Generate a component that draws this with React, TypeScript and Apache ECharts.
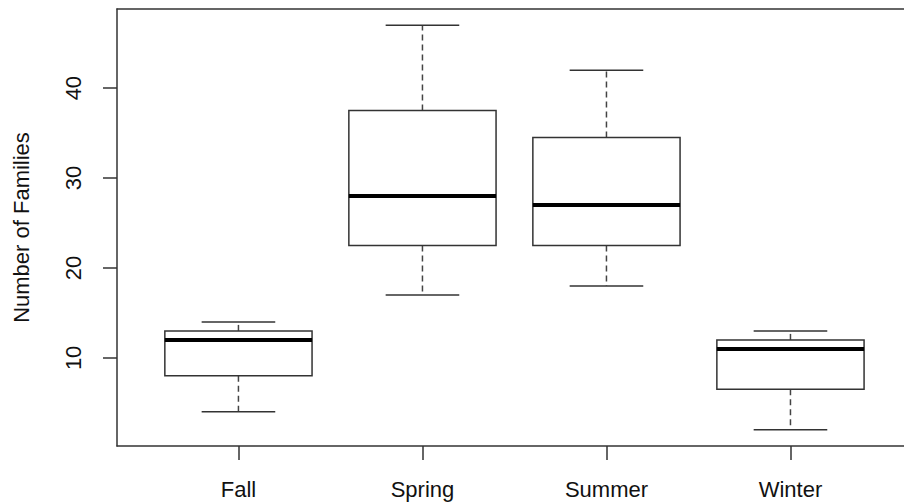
import React, { useEffect, useRef } from "react";
import * as echarts from "echarts";

const categories = ["Fall", "Spring", "Summer", "Winter"];
// [min, Q1, median, Q3, max]
const boxValues = [
  [4, 8, 12, 13, 14],
  [17, 22.5, 28, 37.5, 47],
  [18, 22.5, 27, 34.5, 42],
  [2, 6.5, 11, 12, 13],
];
const yTicks = [10, 20, 30, 40];
const xTicks = [1, 2, 3, 4];

export default function App() {
  const ref = useRef<HTMLDivElement>(null);
  useEffect(() => {
    if (!ref.current) return;
    const chart = echarts.init(ref.current, null, { renderer: "svg" });
    const lineColor = "#333";
    const font = "'Liberation Sans', Arial, sans-serif";
    const data = boxValues.map((v, i) => [i + 1, ...v]);
    chart.setOption({
      animation: false,
      backgroundColor: "#fff",
      grid: {
        left: 117,
        top: 9,
        right: 0,
        height: 437,
        show: false,
      },
      xAxis: [
        {
          type: "value",
          min: 0.34,
          max: 4.617,
          splitLine: { show: false },
          axisLine: { show: true, lineStyle: { color: lineColor, width: 1.5 } },
          axisTick: {
            show: true,
            customValues: xTicks,
            length: 14,
            lineStyle: { color: lineColor, width: 1.5 },
          },
          axisLabel: {
            customValues: xTicks,
            formatter: (v: number) => categories[Math.round(v) - 1] ?? "",
            margin: 32,
            fontSize: 22,
            fontFamily: font,
            color: "#111",
          },
        },
        {
          type: "value",
          position: "top",
          min: 0.34,
          max: 4.617,
          splitLine: { show: false },
          axisLine: { show: true, lineStyle: { color: lineColor, width: 1.5 } },
          axisTick: { show: false },
          axisLabel: { show: false },
        },
      ],
      yAxis: {
        type: "value",
        min: 0.2,
        max: 48.8,
        name: "Number of Families",
        nameLocation: "middle",
        nameRotate: 90,
        nameGap: 85,
        nameTextStyle: { fontSize: 22, fontFamily: font, color: "#111" },
        splitLine: { show: false },
        axisLine: { show: true, lineStyle: { color: lineColor, width: 1.5 } },
        axisTick: {
          show: true,
          customValues: yTicks,
          length: 14,
          lineStyle: { color: lineColor, width: 1.5 },
        },
        axisLabel: {
          customValues: yTicks,
          rotate: 90,
          margin: 33,
          fontSize: 22,
          fontFamily: font,
          color: "#111",
        },
      },
      series: [
        {
          type: "custom",
          xAxisIndex: 0,
          data,
          encode: { x: 0, y: [1, 2, 3, 4, 5] },
          renderItem: (params: any, api: any) => {
            const x = api.value(0);
            const mn = api.value(1);
            const q1 = api.value(2);
            const md = api.value(3);
            const q3 = api.value(4);
            const mx = api.value(5);
            const bw = 0.4;
            const cw = 0.2;
            const pBL = api.coord([x - bw, q1]);
            const pTR = api.coord([x + bw, q3]);
            const pMdL = api.coord([x - bw, md]);
            const pMdR = api.coord([x + bw, md]);
            const pC = api.coord([x, q3]);
            const pMax = api.coord([x, mx]);
            const pMin = api.coord([x, mn]);
            const pCapL = api.coord([x - cw, mx]);
            const pCapR = api.coord([x + cw, mx]);
            const pCapL2 = api.coord([x - cw, mn]);
            const pCapR2 = api.coord([x + cw, mn]);
            const pQ1 = api.coord([x, q1]);
            const solid = { stroke: lineColor, lineWidth: 1.5, fill: "none" };
            const dashed = { stroke: "#444", lineWidth: 1.5, lineDash: [6, 4] };
            return {
              type: "group",
              children: [
                { type: "line", shape: { x1: pC[0], y1: pC[1], x2: pMax[0], y2: pMax[1] }, style: dashed },
                { type: "line", shape: { x1: pQ1[0], y1: pQ1[1], x2: pMin[0], y2: pMin[1] }, style: dashed },
                { type: "line", shape: { x1: pCapL[0], y1: pCapL[1], x2: pCapR[0], y2: pCapR[1] }, style: solid },
                { type: "line", shape: { x1: pCapL2[0], y1: pCapL2[1], x2: pCapR2[0], y2: pCapR2[1] }, style: solid },
                {
                  type: "rect",
                  shape: { x: pBL[0], y: pTR[1], width: pTR[0] - pBL[0], height: pBL[1] - pTR[1] },
                  style: { stroke: lineColor, lineWidth: 1.5, fill: "#fff" },
                },
                { type: "line", shape: { x1: pMdL[0], y1: pMdL[1], x2: pMdR[0], y2: pMdR[1] }, style: { stroke: "#000", lineWidth: 4 } },
              ],
            };
          },
        },
      ],
    });
    return () => chart.dispose();
  }, []);
  return (
    <div
      ref={ref}
      style={{ position: "absolute", left: 0, top: 0, width: 904, height: 504 }}
    />
  );
}
